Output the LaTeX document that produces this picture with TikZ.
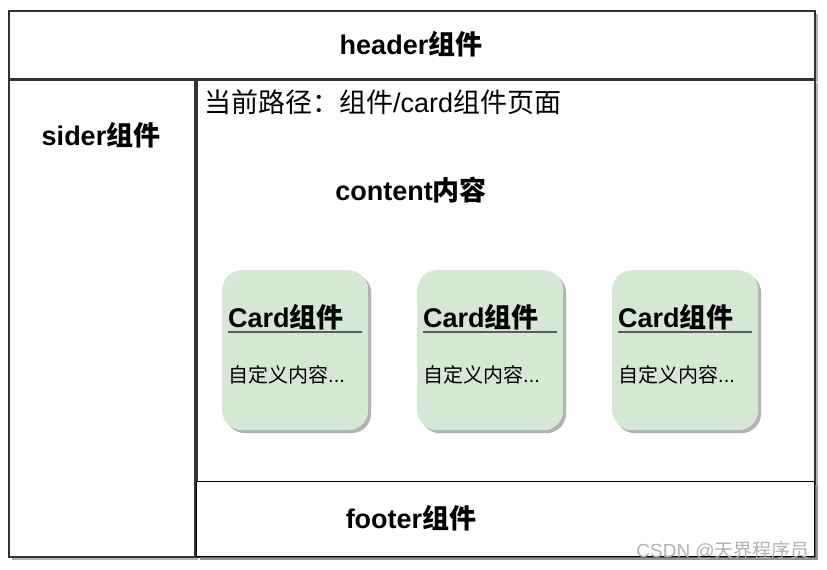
\documentclass[tikz,border=0pt]{standalone}
\usepackage{fontspec}
\setmainfont{Liberation Sans}
\newfontfamily\cjk{Noto Sans CJK SC}
\usepackage{tikz}
\usetikzlibrary{shadows}

\newcommand{\zh}[1]{{\cjk #1}}
\definecolor{cardgreen}{HTML}{D5E8D4}
\definecolor{framegray}{HTML}{333333}

\tikzset{
  panel/.style={draw=framegray, line width=1.5pt, fill=white, inner sep=0pt,
    anchor=north west, drop shadow={shadow xshift=3pt, shadow yshift=-3pt, fill=gray, opacity=.6}},
  card/.style={draw=none, fill=cardgreen, rounded corners=20pt, inner sep=0pt,
    anchor=north west, minimum width=146pt, minimum height=160pt,
    drop shadow={shadow xshift=3pt, shadow yshift=-3pt, fill=gray, opacity=.6}},
  title/.style={font=\fontsize{27}{30}\selectfont\bfseries},
  plain/.style={font=\fontsize{27}{30}\selectfont}
}

\begin{document}
\begin{tikzpicture}[x=1pt, y=-1pt]
        \useasboundingbox (0,0) rectangle (827,570);

        % Rahmen
        \node[panel, minimum width=806pt, minimum height=68pt] (header) at (8,10) {};
        \node[panel, minimum width=186pt, minimum height=477pt] (sider) at (8,79) {};
        \node[panel, minimum width=618pt, minimum height=477pt] (content) at (196,79) {};
        \node[panel, draw=black, line width=1pt, drop shadow={opacity=0}, minimum width=618pt, minimum height=75pt] (footer) at (196,481) {};

        % Beschriftungen
        \node[title] (headertext) at (411,44) {header\zh{组件}};
        \node[title] (sidertext) at (101,135) {sider\zh{组件}};
        \node[plain, anchor=west, inner sep=0pt] (path) at (204,102) {\zh{当前路径：组件}/card\zh{组件页面}};
        \node[title] (contenttext) at (411,190) {content\zh{内容}};
        \node[title] (footertext) at (411,518) {footer\zh{组件}};

        % Karten
        \foreach \x/\n in {222/a,417/b,612/c} {
            \node[card] (card\n) at (\x,270) {};
            \node[title, anchor=west, inner sep=0pt] (cardtitle\n) at (\x+6,317) {Card\zh{组件}};
            \draw[framegray!80, line width=1.5pt] (\x+6,332) -- (\x+140,332);
            \node[anchor=west, inner sep=0pt, font=\fontsize{20}{24}\selectfont] (cardbody\n) at (\x+6,375) {\zh{自定义内容}...};
        }

        % Wasserzeichen
        \node[anchor=south east, inner sep=0pt, text=gray!60, font=\fontsize{19}{21}\selectfont] (mark) at (810,560) {CSDN @\zh{天界程序员}};
    \end{tikzpicture}
\end{document}
